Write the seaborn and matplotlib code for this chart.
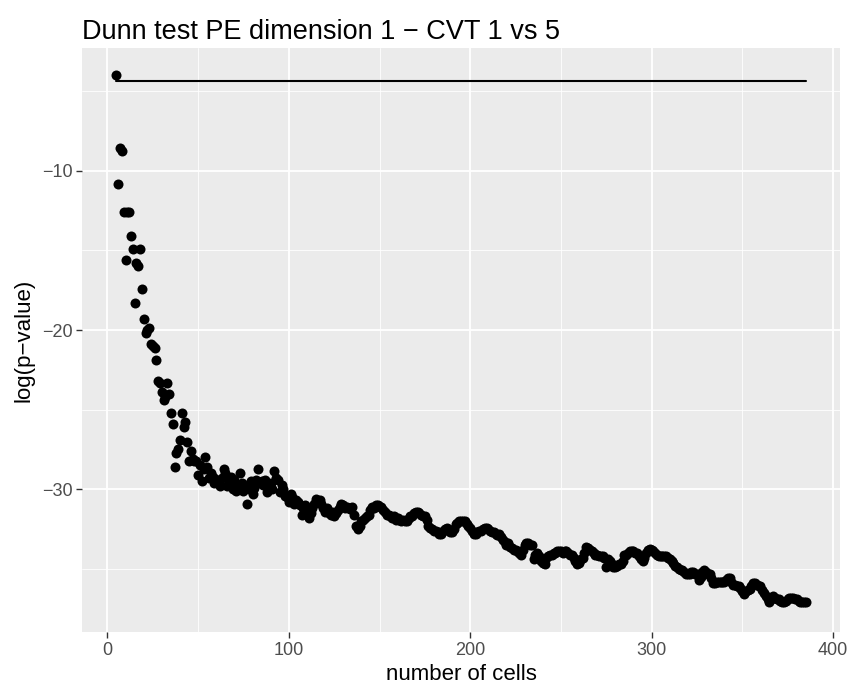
import numpy as np
import pandas as pd
import matplotlib
matplotlib.use('Agg')
import matplotlib.pyplot as plt
import seaborn as sns
from matplotlib.ticker import MultipleLocator, FuncFormatter

# number of cells: 5 .. 385
n_cells = list(range(5, 386))

# log(p-value)
log_p = [
    -4.0, -10.8, -8.55, -8.75, -12.6, -15.6, -12.6, -12.6, -14.1, -14.9,
    -18.3, -15.8, -16.0, -14.9, -17.4, -19.3, -20.2, -20.0, -19.9, -20.9,
    -21.0, -21.1, -21.9, -23.2, -23.3, -23.9, -24.4, -24.2, -23.3, -24.0,
    -25.2, -25.9, -28.6, -27.7, -27.5, -26.9, -25.2, -26.1, -25.8, -27.0,
    -28.2, -27.6, -28.1, -28.2, -28.2, -29.1, -28.5, -29.5, -28.7, -28.0,
    -28.6, -29.3, -29.0, -29.2, -29.6, -29.4, -29.4, -29.8, -29.3, -28.75,
    -29.0, -29.8, -29.5, -29.2, -30.0, -29.4, -30.1, -29.7, -28.95, -29.6,
    -30.1, -29.8, -30.9, -30.0, -29.5, -30.3, -29.9, -29.4, -28.75, -29.6,
    -29.5, -29.7, -29.4, -30.2, -29.9, -29.6, -30.0, -28.85, -29.3, -29.4,
    -30.2, -29.7, -30.0, -30.4, -30.5, -30.8, -30.3, -30.5, -30.9, -30.7,
    -30.8, -31.0, -31.6, -31.2, -31.0, -31.3, -31.8, -31.5, -31.2, -30.9,
    -30.6, -30.8, -30.7, -30.9, -31.2, -31.4, -31.2, -31.5, -31.6, -31.4,
    -31.7, -31.5, -31.3, -31.1, -30.9, -31.0, -31.2, -31.1, -31.2, -31.25,
    -31.1, -31.6, -32.3, -32.5, -32.3, -32.0, -31.9, -31.8, -31.7, -31.6,
    -31.3, -31.1, -31.2, -31.0, -31.0, -31.1, -31.1, -31.3, -31.4, -31.6,
    -31.6, -31.7, -31.8, -31.7, -31.9, -31.8, -31.9, -32.0, -31.9, -32.0,
    -32.0, -31.8, -31.7, -31.7, -31.5, -31.4, -31.4, -31.5, -31.6, -31.7,
    -31.7, -31.9, -32.3, -32.4, -32.5, -32.6, -32.6, -32.7, -32.8, -32.8,
    -32.6, -32.5, -32.4, -32.5, -32.7, -32.7, -32.5, -32.2, -32.1, -32.0,
    -32.0, -32.0, -32.0, -32.2, -32.3, -32.4, -32.6, -32.8, -32.8, -32.7,
    -32.6, -32.6, -32.5, -32.4, -32.4, -32.5, -32.6, -32.7, -32.7, -32.8,
    -32.9, -32.8, -33.0, -33.2, -33.3, -33.5, -33.4, -33.6, -33.7, -33.8,
    -33.8, -33.9, -34.0, -34.1, -33.8, -33.5, -33.4, -33.4, -33.5, -33.5,
    -34.4, -34.1, -34.0, -34.2, -34.5, -34.6, -34.7, -34.3, -34.2, -34.1,
    -34.1, -34.0, -34.0, -33.9, -33.9, -33.9, -34.0, -33.9, -33.9, -34.0,
    -34.1, -34.1, -34.3, -34.5, -34.7, -34.6, -34.4, -34.3, -34.0, -33.6,
    -33.7, -33.8, -33.9, -34.0, -34.1, -34.1, -34.2, -34.2, -34.2, -34.3,
    -34.9, -34.4, -34.5, -34.7, -34.9, -34.9, -34.8, -34.7, -34.7, -34.5,
    -34.1, -34.1, -34.0, -33.9, -33.9, -33.9, -34.0, -34.0, -34.2, -34.4,
    -34.5, -34.3, -34.0, -33.8, -33.75, -33.8, -33.9, -34.0, -34.1, -34.2,
    -34.2, -34.2, -34.2, -34.2, -34.3, -34.4, -34.5, -34.6, -34.8, -34.9,
    -35.0, -35.1, -35.1, -35.2, -35.3, -35.3, -35.3, -35.2, -35.2, -35.3,
    -35.3, -35.7, -35.5, -35.2, -35.1, -35.2, -35.3, -35.3, -35.6, -35.9,
    -35.9, -35.8, -35.8, -35.8, -35.8, -35.8, -35.7, -35.6, -35.6, -35.8,
    -36.0, -36.0, -36.1, -36.1, -36.2, -36.4, -36.6, -36.4, -36.3, -36.25,
    -36.1, -35.9, -35.9, -36.0, -36.1, -36.1, -36.3, -36.5, -36.7, -36.9,
    -37.1, -36.9, -36.7, -36.8, -36.9, -36.9, -37.0, -37.1, -37.1, -37.0,
    -36.9, -36.8, -36.8, -36.8, -36.9, -36.9, -37.0, -37.1, -37.1, -37.1,
    -37.1,
]

# threshold line
threshold = -4.37
line_x = [5, 385]

df = pd.DataFrame({'cells': n_cells, 'logp': log_p})
line_df = pd.DataFrame({'cells': line_x, 'logp': [threshold, threshold]})

sns.set_theme(style='darkgrid', rc={
    'axes.facecolor': '#EBEBEB',
    'grid.color': 'white',
    'axes.edgecolor': '#EBEBEB',
})
plt.rcParams['font.family'] = ['Liberation Sans', 'DejaVu Sans']

fig = plt.figure(figsize=(8.5, 7), dpi=100)
ax = fig.add_axes([0.0965, 0.097, 0.892, 0.834])

sns.lineplot(data=line_df, x='cells', y='logp', color='black', linewidth=1.5, ax=ax)
sns.scatterplot(data=df, x='cells', y='logp', color='black', s=52, linewidth=0, ax=ax, zorder=3)

ax.set_xlim(-14, 404)
ax.set_ylim(-38.97, -2.3)
ax.xaxis.set_major_locator(MultipleLocator(100))
ax.xaxis.set_minor_locator(MultipleLocator(50))
ax.yaxis.set_major_locator(MultipleLocator(10))
ax.yaxis.set_minor_locator(MultipleLocator(5))
ax.grid(which='major', color='white', linewidth=1.3)
ax.grid(which='minor', color='white', linewidth=0.6)
ax.yaxis.set_major_formatter(FuncFormatter(lambda v, p: f'{v:.0f}'.replace('-', '\u2212')))

ax.tick_params(axis='both', which='major', length=4, width=1, color='#333333',
               labelcolor='#4D4D4D', labelsize=13, pad=3, bottom=True, left=True)
ax.tick_params(axis='both', which='minor', length=0)
for s in ax.spines.values():
    s.set_visible(False)

ax.set_xlabel('number of cells', fontsize=16, color='black', labelpad=4)
ax.set_ylabel('log(p\u2212value)', fontsize=16, color='black', labelpad=5)
ax.set_title('Dunn test PE dimension 1 \u2212 CVT 1 vs 5', loc='left', fontsize=19.5,
             color='black', pad=7)

fig.savefig('out.png', dpi=100)
